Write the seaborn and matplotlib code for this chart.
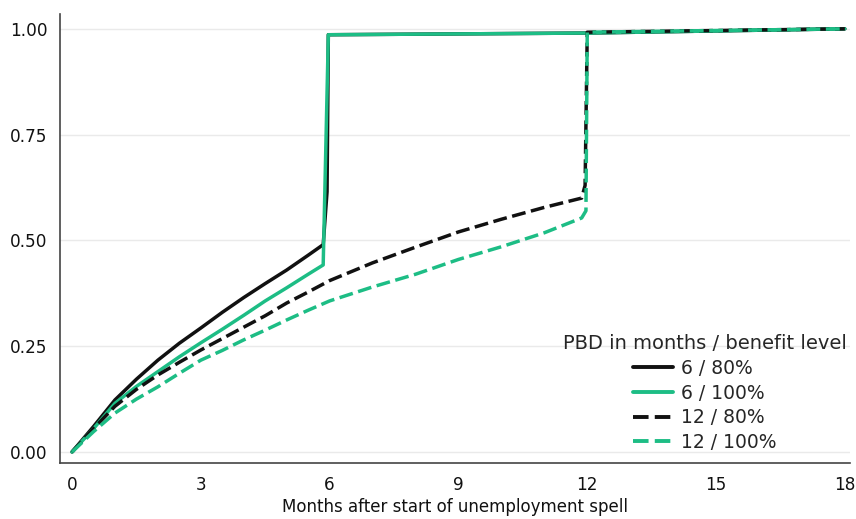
import numpy as np
import pandas as pd
import matplotlib
matplotlib.use("Agg")
import matplotlib.pyplot as plt
import seaborn as sns

# ---- data ----
groups = ["6 / 80%", "6 / 100%", "12 / 80%", "12 / 100%"]

m_6_80 = [0, 0.5, 1, 1.5, 2, 2.5, 3, 3.5, 4, 4.5, 5, 5.5, 5.85, 5.94, 5.97, 12, 18]
v_6_80 = [0, 0.060, 0.123, 0.172, 0.217, 0.257, 0.293, 0.330, 0.365, 0.398, 0.430, 0.465, 0.490, 0.615, 0.986, 0.990, 1.0]

m_6_100 = [0, 0.5, 1, 1.5, 2, 2.5, 3, 3.5, 4, 4.5, 5, 5.5, 5.85, 5.97, 12, 18]
v_6_100 = [0, 0.055, 0.115, 0.155, 0.190, 0.225, 0.258, 0.290, 0.323, 0.357, 0.388, 0.420, 0.442, 0.986, 0.990, 1.0]

m_12_80 = [0, 0.5, 1, 1.5, 2, 2.5, 3, 3.5, 4, 4.5, 5, 5.5, 6, 7, 8, 9, 10, 11, 11.87, 11.95, 12, 18]
v_12_80 = [0, 0.055, 0.108, 0.148, 0.182, 0.212, 0.241, 0.268, 0.295, 0.322, 0.352, 0.378, 0.405, 0.447, 0.484, 0.520, 0.550, 0.578, 0.600, 0.630, 0.992, 1.0]

m_12_100 = [0, 0.5, 1, 1.5, 2, 2.5, 3, 3.5, 4, 4.5, 5, 5.5, 6, 7, 8, 9, 10, 11, 11.87, 11.97, 12, 18]
v_12_100 = [0, 0.048, 0.092, 0.125, 0.154, 0.186, 0.217, 0.240, 0.265, 0.288, 0.312, 0.335, 0.357, 0.390, 0.420, 0.455, 0.485, 0.518, 0.553, 0.570, 0.992, 1.0]

x_ticks = [0, 3, 6, 9, 12, 15, 18]
y_ticks = [0.0, 0.25, 0.5, 0.75, 1.0]
y_tick_labels = ["0.00", "0.25", "0.50", "0.75", "1.00"]
x_label = "Months after start of unemployment spell"
legend_title = "PBD in months / benefit level"

series = {
    "6 / 80%": (m_6_80, v_6_80),
    "6 / 100%": (m_6_100, v_6_100),
    "12 / 80%": (m_12_80, v_12_80),
    "12 / 100%": (m_12_100, v_12_100),
}
frames = []
for g in groups:
    m, v = series[g]
    frames.append(pd.DataFrame({"month": m, "share": v, "group": g}))
df = pd.concat(frames, ignore_index=True)

# ---- style ----
sns.set_style("white")
plt.rcParams["font.family"] = ["DejaVu Sans"]

GREEN = "#1DBD85"
BLACK = "#111111"
palette = {"6 / 80%": BLACK, "6 / 100%": GREEN, "12 / 80%": BLACK, "12 / 100%": GREEN}
dashes = {"6 / 80%": "", "6 / 100%": "", "12 / 80%": (4.0, 1.6), "12 / 100%": (4.0, 1.6)}

fig = plt.figure(figsize=(8.56, 5.19), dpi=100)
ax = fig.add_axes([60 / 856, 1 - 463 / 519, 790 / 856, (463 - 14) / 519])

sns.lineplot(data=df, x="month", y="share", hue="group", style="group",
             hue_order=groups, style_order=groups, palette=palette, dashes=dashes,
             estimator=None, sort=False, linewidth=2.5, ax=ax)

ax.set_xlim(-0.28, 18.12)
ax.set_ylim(-0.026, 1.035)
ax.set_xticks(x_ticks)
ax.set_xticklabels([str(t) for t in x_ticks])
ax.set_yticks(y_ticks)
ax.set_yticklabels(y_tick_labels)
ax.set_xlabel(x_label, fontsize=12, color="#111111", labelpad=3)
ax.set_ylabel("")
ax.tick_params(axis="both", labelsize=12.2, colors="#333333", direction="out",
               length=6, width=1, pad=3)
ax.tick_params(axis="both", labelcolor="#111111")
ax.yaxis.grid(True, color="#EAEAEA", linewidth=1)
ax.xaxis.grid(False)
for s in ["top", "right"]:
    ax.spines[s].set_visible(False)
for s in ["left", "bottom"]:
    ax.spines[s].set_color("#444444")
    ax.spines[s].set_linewidth(1.2)

handles, labels = ax.get_legend_handles_labels()
for h in handles:
    h.set_linewidth(2.8)
leg = ax.legend(handles, labels, title=legend_title, frameon=False,
                loc="lower right", bbox_to_anchor=(0.996, 0.025),
                borderaxespad=0, borderpad=0, fontsize=13.5, title_fontsize=14,
                handlelength=2.1, handletextpad=0.45, labelspacing=0.3,
                alignment="center")

fig.savefig("out.png", dpi=100)
